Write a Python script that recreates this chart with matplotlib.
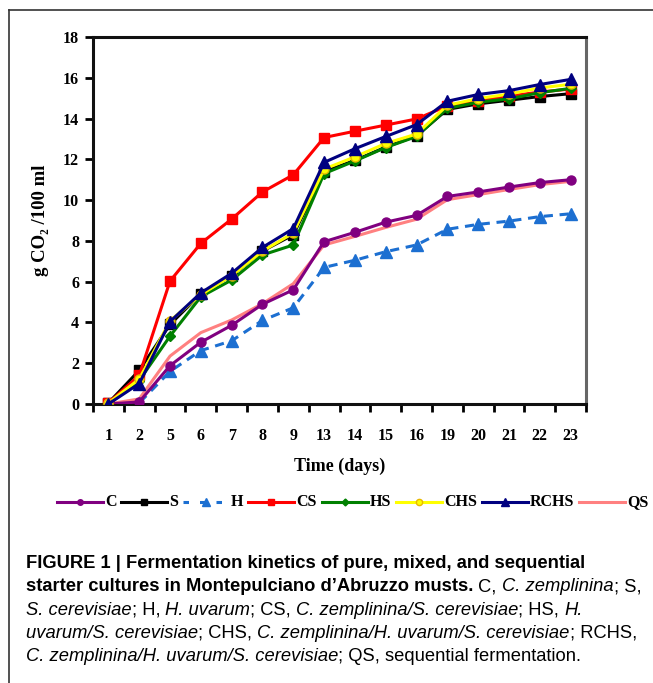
import matplotlib.pyplot as plt
from matplotlib.lines import Line2D
import numpy as np

days = ['1', '2', '5', '6', '7', '8', '9', '13', '14', '15', '16', '19', '20', '21', '22', '23']
C = [0.0, 0.1, 1.88, 3.03, 3.86, 4.89, 5.6, 7.96, 8.42, 8.92, 9.25, 10.18, 10.4, 10.64, 10.86, 11.0]
S = [0.05, 1.65, 3.9, 5.4, 6.3, 7.5, 8.3, 11.4, 11.95, 12.6, 13.15, 14.45, 14.72, 14.9, 15.08, 15.22]
H = [0.0, 0.05, 1.6, 2.62, 3.1, 4.1, 4.72, 6.7, 7.05, 7.47, 7.8, 8.57, 8.81, 8.97, 9.19, 9.33]
CS = [0.05, 1.4, 6.03, 7.88, 9.07, 10.4, 11.24, 13.07, 13.38, 13.68, 13.98, 14.62, 14.88, 15.1, 15.3, 15.45]
HS = [0.0, 1.15, 3.33, 5.26, 6.08, 7.31, 7.8, 11.3, 11.92, 12.58, 13.12, 14.5, 14.8, 14.97, 15.27, 15.48]
CHS = [0.05, 1.22, 4.08, 5.36, 6.3, 7.5, 8.38, 11.52, 12.12, 12.78, 13.24, 14.65, 14.98, 15.2, 15.5, 15.68]
RCHS = [0.0, 1.0, 4.04, 5.45, 6.41, 7.68, 8.6, 11.85, 12.52, 13.12, 13.7, 14.85, 15.18, 15.37, 15.67, 15.92]
QS = [0.0, 0.25, 2.35, 3.5, 4.12, 4.92, 5.9, 7.8, 8.22, 8.66, 9.06, 10.02, 10.27, 10.52, 10.76, 10.92]

# name, values, colour, marker, plot marker size, legend marker size, dashed, zorder
series = [
    ('C', C, '#800080', 'o', 6.5, 4, False, 4),
    ('S', S, 'black', 's', 6.5, 4.5, False, 3),
    ('H', H, '#1C6FD1', '^', 8, 5.5, True, 2),
    ('CS', CS, '#FF0000', 's', 7, 4.5, False, 5),
    ('HS', HS, '#008000', 'D', 5, 3.5, False, 6),
    ('CHS', CHS, '#FFFF00', 'o', 6.5, 4.5, False, 7),
    ('RCHS', RCHS, '#000080', '^', 8, 5.5, False, 8),
    ('QS', QS, '#FF8080', '', 0, 0, False, 1),
]

serif = ['Liberation Serif', 'DejaVu Serif']
sans = 'Liberation Sans'
W, Hpx = 653, 683

fig = plt.figure(figsize=(6.53, 6.83), dpi=100)
ax = fig.add_axes([93/W, 1-404/Hpx, 493/W, 367/Hpx])

x = np.arange(len(days))
for name, vals, col, mk, ms, lms, dashed, z in series:
    kw = dict(color=col, lw=2.2, marker=mk or None, markersize=ms, zorder=z)
    if name == 'CHS':
        kw['markeredgecolor'] = '#E8B800'
    if dashed:
        kw['dashes'] = (3, 2.2)
    ax.plot(x, vals, **kw)

ax.set_xlim(-0.5, len(days) - 0.5)
ax.set_ylim(0, 18)
ax.set_yticks(np.arange(0, 19, 2))
ax.set_xticks(x)
ax.set_xticklabels(days)
ax.set_xticks(np.arange(-0.5, len(days), 1), minor=True)
ax.tick_params(axis='x', which='major', length=0, pad=17)
ax.tick_params(axis='x', which='minor', length=6, width=2, direction='out')
ax.tick_params(axis='y', length=6, width=2, direction='out', pad=4)
for lab in ax.get_xticklabels() + ax.get_yticklabels():
    lab.set_fontfamily(serif)
    lab.set_fontweight('bold')
    lab.set_fontsize(11.5)

for s in ['left', 'bottom', 'top']:
    ax.spines[s].set_linewidth(2.2)
    ax.spines[s].set_color('#111111')
ax.spines['right'].set_linewidth(2.2)
ax.spines['right'].set_color('#666666')

ax.set_ylabel('g CO\u2082 /100 ml', fontfamily=serif, fontweight='bold', fontsize=13.5)
ax.yaxis.set_label_coords(-0.09, 0.5)
ax.set_xlabel('Time (days)', fontfamily=serif, fontweight='bold', fontsize=13)
ax.xaxis.set_label_coords(0.5, -0.145)

# outer frame (left and top edges visible)
fig.add_artist(Line2D([9/W, 9/W], [0, 1-10/Hpx], color='#333333', lw=1.2))
fig.add_artist(Line2D([9/W, 1], [1-10/Hpx, 1-10/Hpx], color='#333333', lw=1.2))

renderer = fig.canvas.get_renderer()


def text_w(s, **kw):
    t = fig.text(0, 0, s, **kw)
    w = t.get_window_extent(renderer=renderer).width
    t.remove()
    return w


def advance(s, **kw):
    return text_w('X' + s + 'X', **kw) - text_w('XX', **kw)


# legend in one row, drawn by hand
leg_kw = dict(family=serif, fontweight='bold', fontsize=11.5)
leg_y = 1 - 502/Hpx
leg_base = 1 - 506.5/Hpx
hl, tgap = 46, 2
widths = [advance(nm, **leg_kw) for nm, *_ in series]
gap = (648 - 57 - len(series)*(hl + tgap) - sum(widths)) / (len(series) - 1)
xp = 57
for (name, vals, col, mk, ms, lms, dashed, z), tw in zip(series, widths):
    lk = dict(color=col, lw=2.2)
    if dashed:
        lk['dashes'] = (1.8, 3.6)
    fig.add_artist(Line2D([xp/W, (xp+hl)/W], [leg_y, leg_y], **lk))
    if mk:
        mec = '#E8B800' if name == 'CHS' else col
        fig.add_artist(Line2D([(xp+hl/2)/W], [leg_y], marker=mk, markersize=lms,
                              color=col, markeredgecolor=mec, lw=0))
    fig.text((xp+hl+tgap)/W, leg_base, name, ha='left', va='baseline', **leg_kw)
    xp += hl + tgap + tw + gap

# caption with mixed styles
cap_size = 13.2


def draw_line(runs, y_px, x_px=26):
    xq = x_px
    for txt, st in runs:
        kw = dict(family=sans, fontsize=cap_size,
                  fontweight='bold' if 'b' in st else 'normal',
                  fontstyle='italic' if 'i' in st else 'normal')
        fig.text(xq/W, 1-y_px/Hpx, txt, ha='left', va='baseline', **kw)
        xq += advance(txt, **kw)


cap_lines = [
    [('FIGURE 1 | Fermentation kinetics of pure, mixed, and sequential', 'b')],
    [('starter cultures in Montepulciano d\u2019Abruzzo musts.', 'b'), (' C, ', ''),
     ('C. zemplinina', 'i'), ('; S,', '')],
    [('S. cerevisiae', 'i'), ('; H, ', ''), ('H. uvarum', 'i'), ('; CS, ', ''),
     ('C. zemplinina/S. cerevisiae', 'i'), ('; HS, ', ''), ('H.', 'i')],
    [('uvarum/S. cerevisiae', 'i'), ('; CHS, ', ''), ('C. zemplinina/H. uvarum/S. cerevisiae', 'i'),
     ('; RCHS,', '')],
    [('C. zemplinina/H. uvarum/S. cerevisiae', 'i'), ('; QS, sequential fermentation.', '')],
]
for i, runs in enumerate(cap_lines):
    draw_line(runs, 568 + i*23.3)

fig.savefig('out.png', dpi=100)
